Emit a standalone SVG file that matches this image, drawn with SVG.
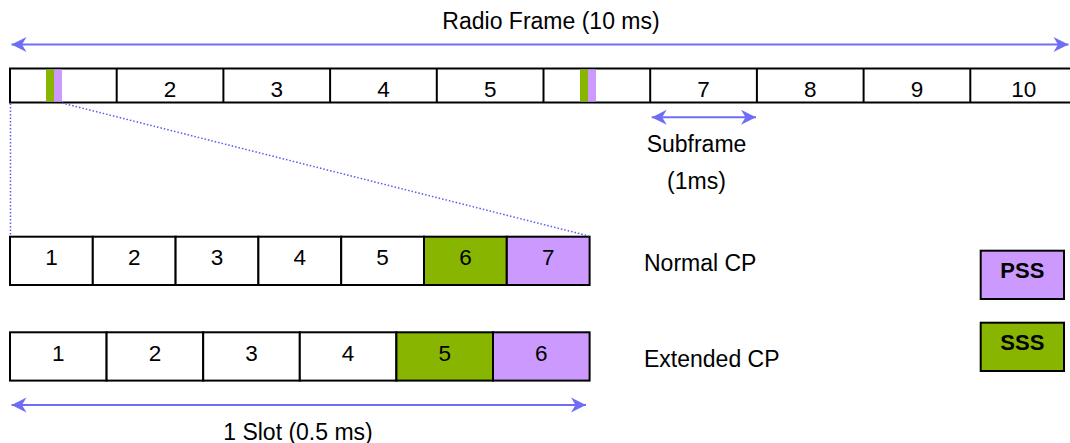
<svg xmlns="http://www.w3.org/2000/svg" width="1070" height="443" viewBox="0 0 1070 443">
<style>
  .cell { fill: #FFFFFF; stroke: #000000; stroke-width: 2; }
  .sss { fill: #88B500; stroke: #000000; stroke-width: 2; }
  .pss { fill: #CC99FF; stroke: #000000; stroke-width: 2; }
  .sssbar { fill: #88B500; }
  .pssbar { fill: #CC99FF; }
  .lbl { font-family: "Liberation Sans", Arial, sans-serif; font-size: 23px; fill: #000000; }
  .num { font-family: "Liberation Sans", Arial, sans-serif; font-size: 22.5px; fill: #000000; text-anchor: middle; }
  .leg { font-family: "Liberation Sans", Arial, sans-serif; font-size: 22px; font-weight: bold; fill: #000000; text-anchor: middle; }
  .arrow { stroke: #6E6EF5; stroke-width: 2; fill: none; marker-start: url(#ah); marker-end: url(#ah); }
  .dot { stroke: #5A5AF0; stroke-width: 1.5; stroke-dasharray: 1.5 2; fill: none; }
</style>
<defs>
  <marker id="ah" viewBox="-16 -8 16 16" refX="0" refY="0" markerWidth="16" markerHeight="16" markerUnits="userSpaceOnUse" orient="auto-start-reverse">
    <path d="M0,0 L-15,-7.5 L-10.5,0 L-15,7.5 Z" fill="#6E6EF5"/>
  </marker>
</defs>
<rect x="0" y="0" width="1070" height="443" fill="#FFFFFF"/>

<g id="radio-frame">
  <rect class="cell" x="10" y="68.5" width="1070" height="34"/>
  <rect class="sssbar" x="46" y="69.5" width="8" height="32"/>
  <rect class="pssbar" x="54" y="69.5" width="8" height="32"/>
  <rect class="sssbar" x="580" y="69.5" width="8" height="32"/>
  <rect class="pssbar" x="588" y="69.5" width="8" height="32"/>
  <g stroke="#000000" stroke-width="2">
    <line x1="116.7" y1="68.5" x2="116.7" y2="102.5"/>
    <line x1="223.4" y1="68.5" x2="223.4" y2="102.5"/>
    <line x1="330.1" y1="68.5" x2="330.1" y2="102.5"/>
    <line x1="436.8" y1="68.5" x2="436.8" y2="102.5"/>
    <line x1="543.5" y1="68.5" x2="543.5" y2="102.5"/>
    <line x1="650.2" y1="68.5" x2="650.2" y2="102.5"/>
    <line x1="756.9" y1="68.5" x2="756.9" y2="102.5"/>
    <line x1="863.6" y1="68.5" x2="863.6" y2="102.5"/>
    <line x1="970.3" y1="68.5" x2="970.3" y2="102.5"/>
  </g>
  <text class="num" x="170" y="96.5">2</text>
  <text class="num" x="276.8" y="96.5">3</text>
  <text class="num" x="383.5" y="96.5">4</text>
  <text class="num" x="490.2" y="96.5">5</text>
  <text class="num" x="703.6" y="96.5">7</text>
  <text class="num" x="810.3" y="96.5">8</text>
  <text class="num" x="917" y="96.5">9</text>
  <text class="num" x="1023.7" y="96.5">10</text>
</g>

<g id="normal-cp">
  <rect class="cell" x="10" y="236.7" width="82.8" height="48.3"/>
  <rect class="cell" x="92.8" y="236.7" width="82.8" height="48.3"/>
  <rect class="cell" x="175.6" y="236.7" width="82.8" height="48.3"/>
  <rect class="cell" x="258.4" y="236.7" width="82.8" height="48.3"/>
  <rect class="cell" x="341.2" y="236.7" width="82.8" height="48.3"/>
  <rect class="sss" x="424" y="236.7" width="82.8" height="48.3"/>
  <rect class="pss" x="506.8" y="236.7" width="82.8" height="48.3"/>
  <text class="num" x="51.4" y="265">1</text>
  <text class="num" x="134.2" y="265">2</text>
  <text class="num" x="217" y="265">3</text>
  <text class="num" x="299.8" y="265">4</text>
  <text class="num" x="382.6" y="265">5</text>
  <text class="num" x="465.4" y="265">6</text>
  <text class="num" x="548.2" y="265">7</text>
  <text class="lbl" x="644" y="270.7">Normal CP</text>
</g>

<g id="extended-cp">
  <rect class="cell" x="10" y="332.3" width="96.6" height="48.3"/>
  <rect class="cell" x="106.6" y="332.3" width="96.6" height="48.3"/>
  <rect class="cell" x="203.2" y="332.3" width="96.6" height="48.3"/>
  <rect class="cell" x="299.8" y="332.3" width="96.6" height="48.3"/>
  <rect class="sss" x="396.4" y="332.3" width="96.6" height="48.3"/>
  <rect class="pss" x="493" y="332.3" width="96.6" height="48.3"/>
  <text class="num" x="58.3" y="360.5">1</text>
  <text class="num" x="154.9" y="360.5">2</text>
  <text class="num" x="251.5" y="360.5">3</text>
  <text class="num" x="348.1" y="360.5">4</text>
  <text class="num" x="444.7" y="360.5">5</text>
  <text class="num" x="541.3" y="360.5">6</text>
  <text class="lbl" x="644" y="366.7">Extended CP</text>
</g>

<g id="legend-pss">
  <rect class="pss" x="980.7" y="250.7" width="83.3" height="48.3"/>
  <text class="leg" x="1022.3" y="278">PSS</text>
</g>
<g id="legend-sss">
  <rect class="sss" x="980.7" y="322.7" width="83.3" height="48.3"/>
  <text class="leg" x="1022.3" y="349.5">SSS</text>
</g>

<g id="labels">
  <text class="lbl" x="551" y="29.3" text-anchor="middle">Radio Frame (10 ms)</text>
  <text class="lbl" x="696.5" y="151.7" text-anchor="middle">Subframe</text>
  <text class="lbl" x="696.5" y="189" text-anchor="middle">(1ms)</text>
  <text class="lbl" x="298" y="440" text-anchor="middle">1 Slot (0.5 ms)</text>
</g>

<g id="connectors">
  <line class="arrow" x1="11.5" y1="44.5" x2="1068.5" y2="44.5"/>
  <line class="arrow" x1="651.7" y1="117.3" x2="756" y2="117.3"/>
  <line class="arrow" x1="11.5" y1="405" x2="586" y2="405"/>
  <line class="dot" x1="10.5" y1="103.5" x2="10.5" y2="236"/>
  <line class="dot" x1="62" y1="103" x2="589" y2="236"/>
</g>
</svg>
